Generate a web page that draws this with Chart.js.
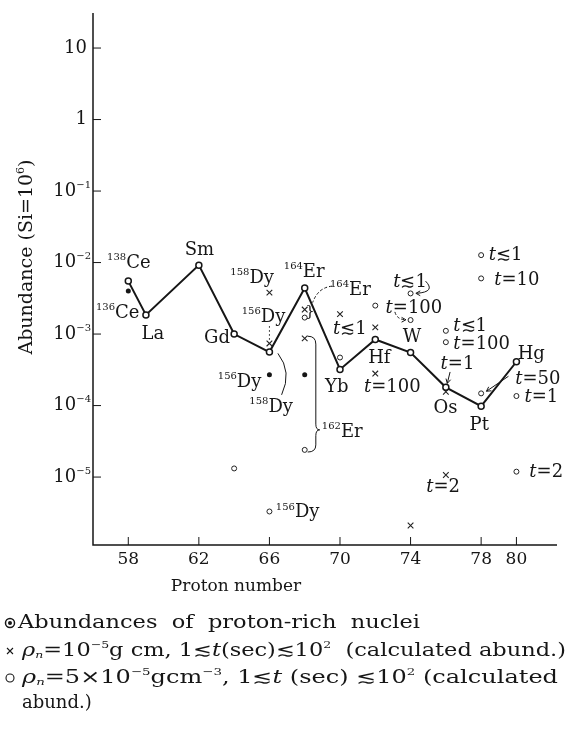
<!DOCTYPE html>
<html>
<head>
<meta charset="utf-8">
<script src="https://cdn.jsdelivr.net/npm/chart.js@4/dist/chart.umd.min.js"></script>
<style>
  html, body { margin: 0; padding: 0; background: #fff; }
</style>
</head>
<body>
<canvas id="chart" width="569" height="733"></canvas>
<script>
// Ejes
const xTicks = [58, 62, 66, 70, 74, 78, 80];
const yTickExp = [-5, -4, -3, -2, -1, 0, 1];

// Abundancias de núcleos ricos en protones (línea)
const mainZ = [58, 59, 62, 64, 66, 68, 70, 72, 74, 76, 78, 80];
const mainAbund = [5.5e-3, 1.85e-3, 9.2e-3, 1.0e-3, 5.6e-4, 4.4e-3, 3.2e-4, 8.4e-4, 5.5e-4, 1.8e-4, 9.8e-5, 4.1e-4];

// Puntos sueltos (136Ce, 156Dy, 162Er)
const dotZ = [58, 66, 68];
const dotAbund = [4.0e-3, 2.7e-4, 2.7e-4];

// Calculado, rho_n = 1e-5
const crossZ = [66, 66, 68, 68, 70, 72, 72, 74, 76, 76];
const crossAbund = [3.8e-3, 7.4e-4, 2.2e-3, 8.7e-4, 1.9e-3, 1.24e-3, 2.8e-4, 2.1e-6, 1.56e-4, 1.07e-5];

// Calculado, rho_n = 5e-5
const ringZ = [64, 66, 68, 68, 70, 72, 74, 74, 76, 76, 78, 78, 78, 80, 80];
const ringAbund = [1.32e-5, 3.3e-6, 1.7e-3, 2.4e-5, 4.7e-4, 2.5e-3, 3.7e-3, 1.57e-3, 1.11e-3, 7.7e-4, 1.48e-4, 1.27e-2, 6.0e-3, 1.36e-4, 1.19e-5];

const pts = (zs, vs) => zs.map((z, i) => ({ x: z, y: vs[i] }));

// Etiquetas: [partes, Z, log10(abund)]
const notes = [
  [[['138', 's'], ['Ce']], 58.03, -2.01],
  [[['136', 's'], ['Ce']], 57.4, -2.71],
  [[['La']], 59.39, -3.0],
  [[['Sm']], 62.03, -1.83],
  [[['Gd']], 63.03, -3.06],
  [[['158', 's'], ['Dy']], 65.02, -2.22],
  [[['156', 's'], ['Dy']], 65.67, -2.76],
  [[['156', 's'], ['Dy']], 64.31, -3.67],
  [[['158', 's'], ['Dy']], 66.1, -4.02],
  [[['164', 's'], ['Er']], 67.97, -2.13],
  [[['164', 's'], ['Er']], 70.59, -2.39],
  [[['162', 's'], ['Er']], 70.13, -4.37],
  [[['156', 's'], ['Dy']], 67.6, -5.5],
  [[['Yb']], 69.82, -3.74],
  [[['Hf']], 72.23, -3.34],
  [[['W']], 74.08, -3.04],
  [[['Os']], 75.98, -4.04],
  [[['Pt']], 77.89, -4.27],
  [[['Hg']], 80.84, -3.29],
  [[['t', 'i'], ['≲1']], 70.56, -2.94],
  [[['t', 'i'], ['≲1']], 73.97, -2.27],
  [[['t', 'i'], ['=100']], 74.19, -2.64],
  [[['t', 'i'], ['=100']], 72.97, -3.74],
  [[['t', 'i'], ['≲1']], 77.38, -2.89],
  [[['t', 'i'], ['=100']], 78.03, -3.15],
  [[['t', 'i'], ['=1']], 76.66, -3.43],
  [[['t', 'i'], ['=50']], 81.21, -3.64],
  [[['t', 'i'], ['=1']], 81.41, -3.88],
  [[['t', 'i'], ['≲1']], 79.39, -1.9],
  [[['t', 'i'], ['=10']], 80.02, -2.25],
  [[['t', 'i'], ['=2']], 75.84, -5.14],
  [[['t', 'i'], ['=2']], 81.69, -4.93]
];

const INK = '#161616';
const FAM = '"DejaVu Serif", "Liberation Serif", serif';

// texto con superíndices / subíndices / cursiva
function rich(ctx, parts, x, y, size, align, width) {
  const fontOf = st => {
    const small = st.includes('s') || st.includes('b');
    return (st.includes('i') ? 'italic ' : '') + (small ? Math.round(size * 0.56) : size) + 'px ' + FAM;
  };
  let w = 0;
  parts.forEach(([t, st = '']) => { ctx.font = fontOf(st); w += ctx.measureText(t).width; });
  const sx = width ? width / w : 1;
  const x0 = align === 'center' ? x - w * sx / 2 : align === 'right' ? x - w * sx : x;
  ctx.save();
  ctx.translate(x0, y);
  ctx.scale(sx, 1);
  ctx.textBaseline = 'middle';
  ctx.textAlign = 'left';
  let cx = 0;
  parts.forEach(([t, st = '']) => {
    ctx.font = fontOf(st);
    const dy = st.includes('s') ? -size * 0.32 : st.includes('b') ? size * 0.25 : 0;
    ctx.fillText(t, cx, dy);
    cx += ctx.measureText(t).width;
  });
  ctx.restore();
}

function arrowHead(ctx, x1, y1, x2, y2) {
  const a = Math.atan2(y2 - y1, x2 - x1);
  ctx.beginPath();
  ctx.moveTo(x2 - 5 * Math.cos(a - 0.5), y2 - 5 * Math.sin(a - 0.5));
  ctx.lineTo(x2, y2);
  ctx.lineTo(x2 - 5 * Math.cos(a + 0.5), y2 - 5 * Math.sin(a + 0.5));
  ctx.stroke();
}

const decor = {
  id: 'decor',
  afterDraw(chart) {
    const { ctx, chartArea: a, scales: { x, y } } = chart;
    const X = z => x.getPixelForValue(z);
    const Y = e => y.getPixelForValue(Math.pow(10, e));
    ctx.save();
    ctx.fillStyle = INK;
    ctx.strokeStyle = INK;

    // ejes
    ctx.lineWidth = 1.5;
    ctx.beginPath();
    ctx.moveTo(a.left, a.top);
    ctx.lineTo(a.left, a.bottom);
    ctx.lineTo(a.right, a.bottom);
    ctx.stroke();

    // marcas hacia dentro
    ctx.lineWidth = 1;
    yTickExp.forEach(e => {
      const py = Y(e);
      ctx.beginPath(); ctx.moveTo(a.left, py); ctx.lineTo(a.left + 8, py); ctx.stroke();
      const parts = e === 1 ? [['10']] : e === 0 ? [['1']] : [['10'], ['−' + (-e), 's']];
      rich(ctx, parts, e >= 0 ? a.left - 6 : a.left - 2, py, 18, 'right');
    });
    xTicks.forEach(z => {
      const px = X(z);
      ctx.beginPath(); ctx.moveTo(px, a.bottom); ctx.lineTo(px, a.bottom - 8); ctx.stroke();
      rich(ctx, [[String(z)]], px, a.bottom + 15, 17, 'center');
    });

    // títulos
    rich(ctx, [['Proton number']], 236, 587, 17, 'center');
    ctx.save();
    ctx.translate(27, 257);
    ctx.rotate(-Math.PI / 2);
    rich(ctx, [['Abundance (Si=10'], ['6', 's'], [')']], 0, 0, 19, 'center');
    ctx.restore();

    // etiquetas
    notes.forEach(([parts, z, e]) => rich(ctx, parts, X(z), Y(e), 18, 'center'));

    // línea punteada 156Dy
    ctx.lineWidth = 1;
    ctx.setLineDash([1.5, 2.5]);
    ctx.beginPath(); ctx.moveTo(X(66), Y(-2.89)); ctx.lineTo(X(66), Y(-3.08)); ctx.stroke();

    // arco discontinuo 164Er
    ctx.setLineDash([3, 2]);
    ctx.beginPath();
    ctx.moveTo(X(69.55), Y(-2.33));
    ctx.quadraticCurveTo(X(68.75), Y(-2.35), X(68.45), Y(-2.56));
    ctx.stroke();

    // flecha discontinua t=100 (W)
    ctx.beginPath();
    ctx.moveTo(X(73.11), Y(-2.69));
    ctx.quadraticCurveTo(X(73.23), Y(-2.80), X(73.74), Y(-2.80));
    ctx.stroke();
    ctx.setLineDash([]);
    arrowHead(ctx, X(73.4), Y(-2.80), X(73.74), Y(-2.80));

    // paréntesis 158Dy
    ctx.beginPath();
    ctx.moveTo(X(66.48), Y(-3.27));
    ctx.quadraticCurveTo(X(67.3), Y(-3.53), X(66.69), Y(-3.85));
    ctx.stroke();

    // llave 162Er
    const bx = X(68.63), hx = X(68.17), tx = X(68.85);
    ctx.beginPath();
    ctx.moveTo(hx, Y(-3.03));
    ctx.quadraticCurveTo(bx, Y(-3.03), bx, Y(-3.14));
    ctx.lineTo(bx, Y(-4.26));
    ctx.quadraticCurveTo(bx, Y(-4.34), tx, Y(-4.34));
    ctx.quadraticCurveTo(bx, Y(-4.34), bx, Y(-4.42));
    ctx.lineTo(bx, Y(-4.55));
    ctx.quadraticCurveTo(bx, Y(-4.65), hx, Y(-4.65));
    ctx.stroke();

    // llave pequeña del par 164Er
    rich(ctx, [['}']], X(68.3), Y(-2.7), 15, 'center');

    // flecha t≲1 (W)
    ctx.beginPath();
    ctx.moveTo(X(74.85), Y(-2.26));
    ctx.quadraticCurveTo(X(75.45), Y(-2.41), X(74.35), Y(-2.43));
    ctx.stroke();
    arrowHead(ctx, X(74.7), Y(-2.43), X(74.3), Y(-2.43));

    // flecha t=1 (Os)
    ctx.beginPath();
    ctx.moveTo(X(76.24), Y(-3.53)); ctx.lineTo(X(76.08), Y(-3.69));
    ctx.stroke();
    arrowHead(ctx, X(76.24), Y(-3.53), X(76.08), Y(-3.69));

    // guía t=50
    ctx.beginPath();
    ctx.moveTo(X(79.55), Y(-3.59)); ctx.lineTo(X(78.3), Y(-3.8));
    ctx.stroke();
    arrowHead(ctx, X(79.55), Y(-3.59), X(78.3), Y(-3.8));

    // leyenda
    const lx = 10, l1 = 623, l2 = 651, l3 = 678, l4 = 703;
    ctx.lineWidth = 1.5;
    ctx.beginPath(); ctx.arc(lx, l1, 4.5, 0, Math.PI * 2); ctx.stroke();
    ctx.beginPath(); ctx.arc(lx, l1, 2, 0, Math.PI * 2); ctx.fill();
    ctx.lineWidth = 1.1;
    ctx.beginPath();
    ctx.moveTo(lx - 3, l2 - 3); ctx.lineTo(lx + 3, l2 + 3);
    ctx.moveTo(lx + 3, l2 - 3); ctx.lineTo(lx - 3, l2 + 3);
    ctx.stroke();
    ctx.beginPath(); ctx.arc(lx, l3, 4, 0, Math.PI * 2); ctx.stroke();

    rich(ctx, [['Abundances  of  proton-rich  nuclei']], 18, l1, 18, 'left', 402);
    rich(ctx, [['ρ', 'i'], ['n', 'ib'], ['=10'], ['−5', 's'], ['g cm, 1≲'], ['t', 'i'],
      ['(sec)≲10'], ['2', 's'], ['  (calculated abund.)']], 22, l2, 18, 'left', 544);
    rich(ctx, [['ρ', 'i'], ['n', 'ib'], ['=5×10'], ['−5', 's'], ['gcm'], ['−3', 's'], [', 1≲'],
      ['t', 'i'], [' (sec) ≲10'], ['2', 's'], [' (calculated']], 22, l3, 18, 'left', 536);
    rich(ctx, [['abund.)']], 22, l4, 18, 'left');

    ctx.restore();
  }
};

new Chart(document.getElementById('chart'), {
  type: 'scatter',
  data: {
    datasets: [
      {
        label: 'Abundances of proton-rich nuclei',
        data: pts(mainZ, mainAbund),
        showLine: true,
        borderColor: INK,
        borderWidth: 2,
        pointRadius: 3,
        pointBackgroundColor: '#fff',
        pointBorderColor: INK,
        pointBorderWidth: 1.5
      },
      {
        label: 'isolated',
        data: pts(dotZ, dotAbund),
        pointRadius: 2.5,
        pointBackgroundColor: INK,
        pointBorderColor: INK,
        pointBorderWidth: 0
      },
      {
        label: 'rho 1e-5',
        data: pts(crossZ, crossAbund),
        pointStyle: 'crossRot',
        pointRadius: 4,
        pointBorderColor: '#222',
        pointBorderWidth: 1.1
      },
      {
        label: 'rho 5e-5',
        data: pts(ringZ, ringAbund),
        pointRadius: 2.5,
        pointBackgroundColor: '#fff',
        pointBorderColor: '#222',
        pointBorderWidth: 1
      }
    ]
  },
  options: {
    responsive: false,
    animation: false,
    events: [],
    layout: { padding: { left: 0, top: 13, right: 12, bottom: 0 } },
    plugins: { legend: { display: false }, tooltip: { enabled: false } },
    scales: {
      x: {
        type: 'linear', min: 56, max: 82.3,
        grid: { display: false }, border: { display: false }, ticks: { display: false },
        afterFit: s => { s.height = 188; }
      },
      y: {
        type: 'logarithmic', min: Math.pow(10, -5.95), max: Math.pow(10, 1.49),
        grid: { display: false }, border: { display: false }, ticks: { display: false },
        afterFit: s => { s.width = 93; }
      }
    }
  },
  plugins: [decor]
});
</script>
</body>
</html>
